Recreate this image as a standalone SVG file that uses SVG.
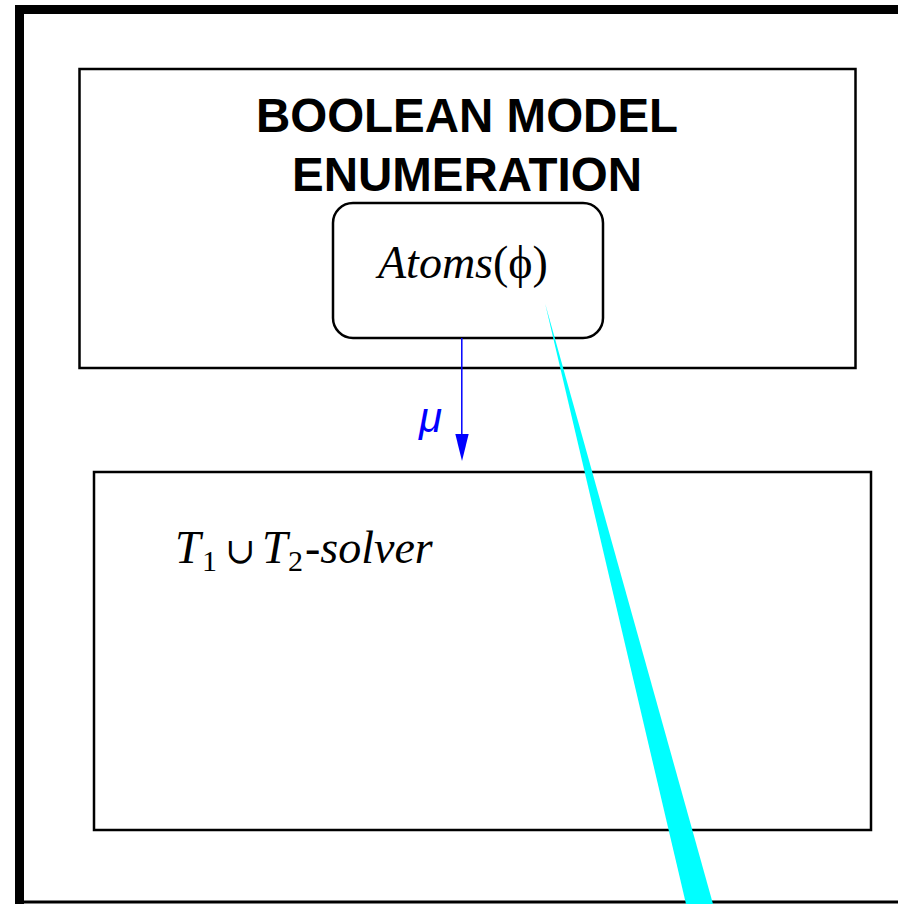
<svg xmlns="http://www.w3.org/2000/svg" width="898" height="904" viewBox="0 0 898 904">
<style>
.box{fill:#fff;stroke:#000;stroke-width:2.5}
.title{font-family:"Liberation Sans",Arial,sans-serif;font-weight:bold;font-size:47.5px;fill:#000;text-anchor:middle}
.math{font-family:"Liberation Serif","Times New Roman",serif;font-size:46px;fill:#000}
</style>
<rect width="898" height="904" fill="#fff"/>
<g id="frame">
<line x1="15" y1="9.5" x2="898" y2="9.5" stroke="#000" stroke-width="9"/>
<line x1="19.5" y1="5" x2="19.5" y2="904" stroke="#000" stroke-width="9"/>
<line x1="15" y1="902" x2="898" y2="902" stroke="#000" stroke-width="3"/>
</g>
<g id="boolean-enumeration">
<rect class="box" x="79.5" y="69" width="776" height="299"/>
<text class="title" x="467" y="132">BOOLEAN MODEL</text>
<text class="title" x="467" y="191">ENUMERATION</text>
</g>
<g id="atoms">
<rect class="box" x="333" y="203" width="270" height="135" rx="20" ry="20" stroke-width="1.5"/>
<text class="math" x="378" y="278"><tspan font-style="italic">Atoms</tspan>(ϕ)</text>
</g>
<g id="solver">
<rect class="box" x="94" y="472" width="777" height="358"/>
<text class="math" y="563"><tspan x="175" font-style="italic">T</tspan><tspan x="202" y="571" font-size="30">1</tspan><tspan x="225" y="563" font-family="'DejaVu Serif',serif" font-size="36">∪</tspan><tspan x="262" font-style="italic">T</tspan><tspan x="288" y="571" font-size="30">2</tspan></text>
<text class="math" x="305" y="563" font-style="italic">-solver</text>
</g>
<g id="connectors">
<line x1="461.8" y1="338" x2="461.8" y2="440" stroke="#0000ff" stroke-width="1.5"/>
<polygon points="455.3,434 468.7,434 462,461" fill="#0000ff"/>
<text x="419" y="432" font-family="'Liberation Sans',Arial,sans-serif" font-style="italic" font-size="42" fill="#0000ff">μ</text>
<polygon points="545,303 686,904 713,904" fill="#00ffff"/>
</g>
</svg>
